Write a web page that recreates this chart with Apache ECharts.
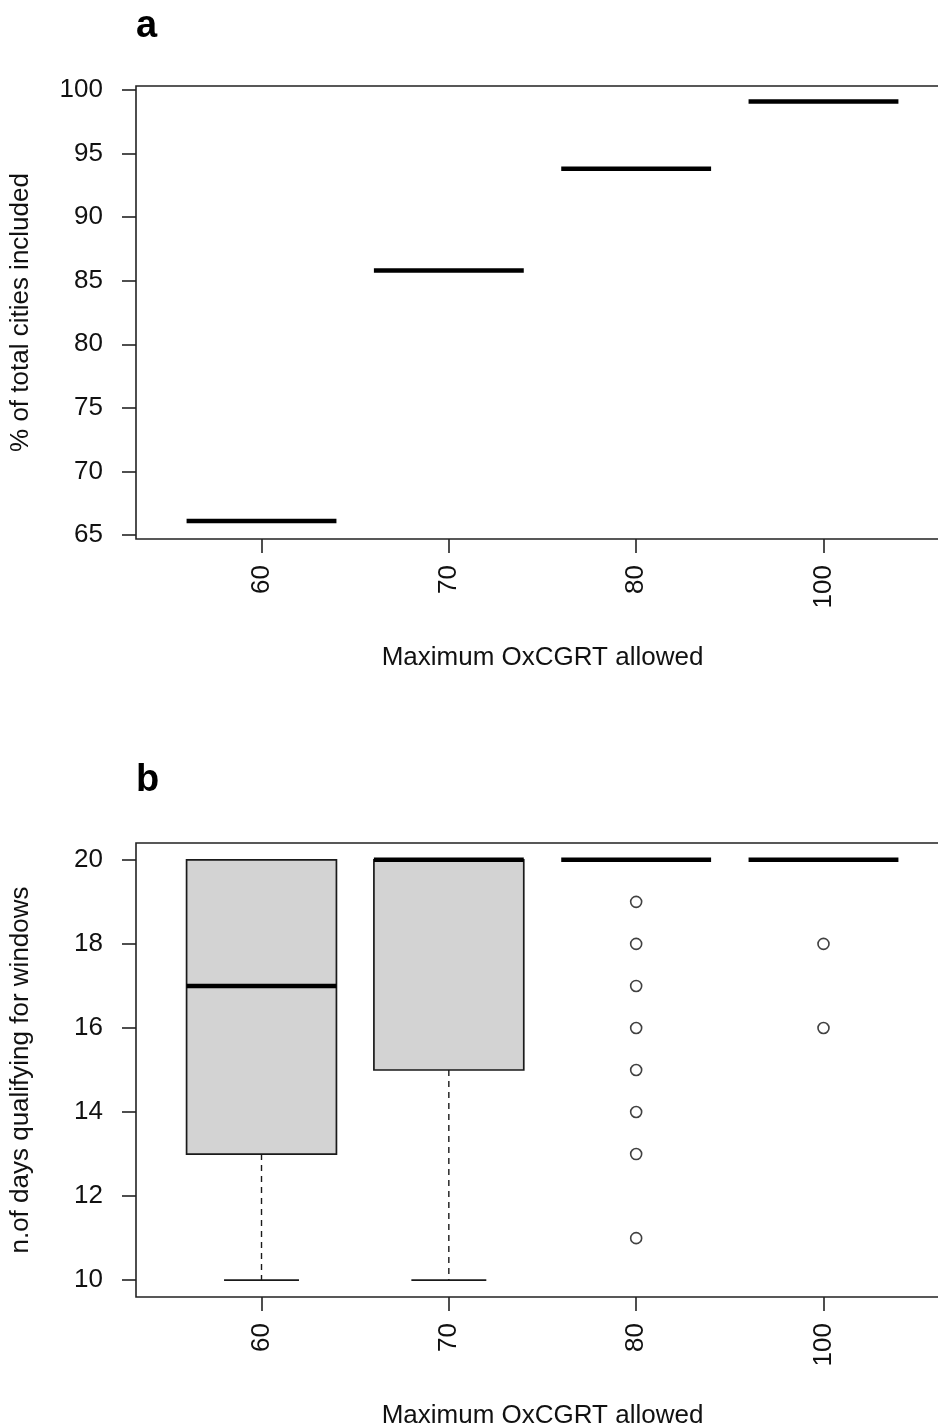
<!DOCTYPE html>
<html><head><meta charset="utf-8">
<script src="https://cdn.jsdelivr.net/npm/echarts@6/dist/echarts.min.js"></script>
<style>html,body{margin:0;padding:0;background:#fff}#c{width:938px;height:1428px}</style>
</head><body><div id="c"></div>
<script>
// ---- data ----
const categories = ['60', '70', '80', '100'];
const pctIncluded = [66.1, 85.8, 93.8, 99.1];
const pctTicks = [65, 70, 75, 80, 85, 90, 95, 100];
const whiskerLow = [10, 10, 20, 20];
const q1 = [13, 15, 20, 20];
const median = [17, 20, 20, 20];
const q3 = [20, 20, 20, 20];
const whiskerHigh = [20, 20, 20, 20];
const outliers = [[], [], [19, 18, 17, 16, 15, 14, 13, 11], [18, 16]];
const daysTicks = [10, 12, 14, 16, 18, 20];

const FONT = "'Liberation Sans', Arial, sans-serif";
const FS = 26;
const catPos = categories.map((c, i) => i + 1);

const dataA = pctIncluded.map((v, i) => [catPos[i], v, v, v, v, v]);
const dataB = categories.map((c, i) => [catPos[i], whiskerLow[i], q1[i], median[i], q3[i], whiskerHigh[i]]);
const outData = [];
outliers.forEach((arr, i) => arr.forEach(v => outData.push([catPos[i], v])));

function boxRender(params, api) {
  const x = api.value(0), lo = api.value(1), b1 = api.value(2), md = api.value(3), b3 = api.value(4), hi = api.value(5);
  const hw = 0.4, cw = 0.2;
  const ch = [];
  const ln = (p, q, style) => ({ type: 'line', shape: { x1: p[0], y1: p[1], x2: q[0], y2: q[1] }, style: Object.assign({ stroke: '#000', lineCap: 'butt' }, style) });
  if (b3 > b1) {
    const L = api.coord([x - hw, b3]), R = api.coord([x + hw, b1]);
    ch.push({ type: 'rect', shape: { x: L[0], y: L[1], width: R[0] - L[0], height: R[1] - L[1] }, style: { fill: '#d3d3d3', stroke: '#1a1a1a', lineWidth: 1.7 } });
  }
  if (lo < b1) {
    ch.push(ln(api.coord([x, b1]), api.coord([x, lo]), { lineWidth: 1.4, lineDash: [6, 5], stroke: '#1a1a1a' }));
    ch.push(ln(api.coord([x - cw, lo]), api.coord([x + cw, lo]), { lineWidth: 1.7, stroke: '#1a1a1a' }));
  }
  if (hi > b3) {
    ch.push(ln(api.coord([x, b3]), api.coord([x, hi]), { lineWidth: 1.4, lineDash: [6, 5], stroke: '#1a1a1a' }));
    ch.push(ln(api.coord([x - cw, hi]), api.coord([x + cw, hi]), { lineWidth: 1.7, stroke: '#1a1a1a' }));
  }
  ch.push(ln(api.coord([x - hw, md]), api.coord([x + hw, md]), { lineWidth: 4.5 }));
  return { type: 'group', children: ch };
}

function xAxisCfg(idx) {
  return {
    gridIndex: idx, type: 'value', min: 0.33, max: 4.67,
    axisLine: { show: false }, splitLine: { show: false },
    axisTick: { show: true, customValues: catPos, length: 14, lineStyle: { color: '#222', width: 1.6 } },
    axisLabel: { customValues: catPos, formatter: v => categories[Math.round(v) - 1], rotate: 90, margin: 26, color: '#111', fontSize: FS, fontFamily: FONT },
    name: 'Maximum OxCGRT allowed', nameLocation: 'middle', nameGap: 106,
    nameTextStyle: { color: '#111', fontSize: FS, fontFamily: FONT }
  };
}
function yAxisCfg(idx, min, max, ticks, name) {
  return {
    gridIndex: idx, type: 'value', min: min, max: max,
    axisLine: { show: false }, splitLine: { show: false },
    axisTick: { show: true, customValues: ticks, length: 14, lineStyle: { color: '#222', width: 1.6 } },
    axisLabel: { customValues: ticks, margin: 33, color: '#111', fontSize: FS, fontFamily: FONT },
    name: name, nameLocation: 'middle', nameGap: 102, nameRotate: 90,
    nameTextStyle: { color: '#111', fontSize: FS, fontFamily: FONT }
  };
}

const chart = echarts.init(document.getElementById('c'), null, { renderer: 'canvas' });
chart.setOption({
  animation: false,
  backgroundColor: '#fff',
  title: [
    { text: 'a', left: 136, top: 8, padding: 0, textStyle: { fontSize: 38, fontWeight: 'bold', color: '#000', fontFamily: FONT } },
    { text: 'b', left: 136, top: 762, padding: 0, textStyle: { fontSize: 38, fontWeight: 'bold', color: '#000', fontFamily: FONT } }
  ],
  grid: [
    { left: 136, top: 86, right: -11, height: 453, outerBoundsMode: 'none', show: true, borderColor: '#222', borderWidth: 1.6, backgroundColor: 'transparent' },
    { left: 136, top: 843, right: -11, height: 454, outerBoundsMode: 'none', show: true, borderColor: '#222', borderWidth: 1.6, backgroundColor: 'transparent' }
  ],
  xAxis: [xAxisCfg(0), xAxisCfg(1)],
  yAxis: [
    yAxisCfg(0, 64.68, 100.32, pctTicks, '% of total cities included'),
    yAxisCfg(1, 9.6, 20.4, daysTicks, 'n.of days qualifying for windows')
  ],
  series: [
    { type: 'custom', xAxisIndex: 0, yAxisIndex: 0, renderItem: boxRender, data: dataA, encode: { x: 0, y: 1 }, silent: true },
    { type: 'custom', xAxisIndex: 1, yAxisIndex: 1, renderItem: boxRender, data: dataB, encode: { x: 0, y: 1 }, silent: true },
    { type: 'scatter', xAxisIndex: 1, yAxisIndex: 1, data: outData, symbol: 'circle', symbolSize: 11,
      itemStyle: { color: 'rgba(0,0,0,0)', borderColor: '#111', borderWidth: 1.6 }, silent: true }
  ]
});
</script></body></html>
